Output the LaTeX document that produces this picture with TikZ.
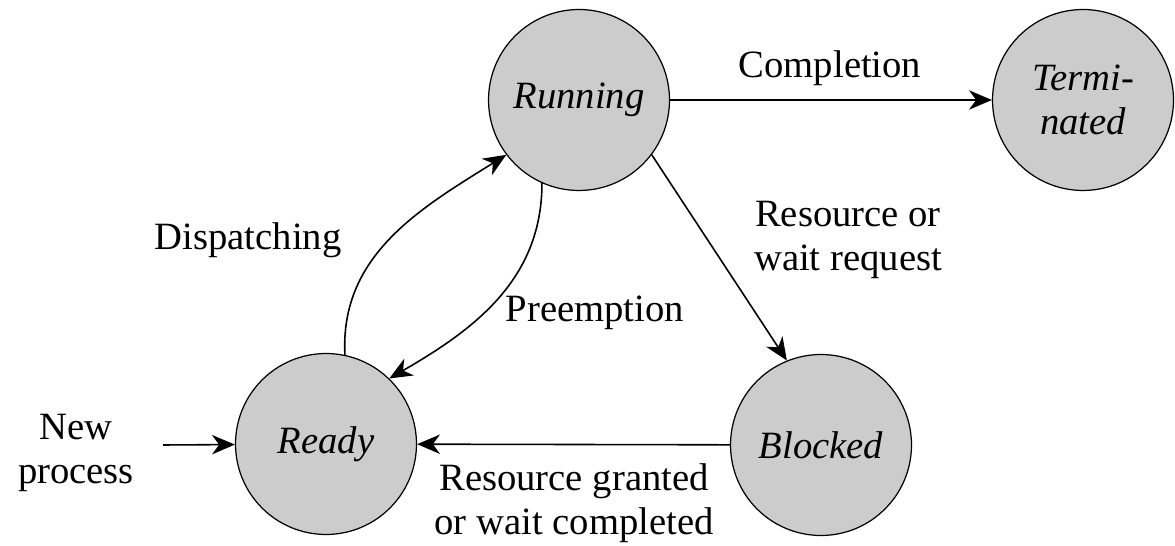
\documentclass[tikz,border=0pt]{standalone}
\usepackage{fontspec}
\setmainfont{Liberation Serif}
\usetikzlibrary{arrows.meta}
\definecolor{stategray}{RGB}{204,204,204}
\begin{document}
\begin{tikzpicture}[x=0.02cm,y=-0.02cm,
  state/.style={circle,draw=black,line width=0.7pt,fill=stategray,minimum size=3.62cm,inner sep=0pt,
    font=\fontsize{22}{25}\selectfont\itshape,align=center},
  lbl/.style={font=\fontsize{22}{25}\selectfont,align=center,inner sep=0pt},
  conn/.style={line width=0.9pt,-{Stealth[length=13pt,width=11pt,inset=4pt]}}]
\useasboundingbox (0,0) rectangle (1175,546);
\node[state] (running) at (579,100) {Running};
\node[state] (term) at (1083,100) {Termi-\\nated};
\node[state] (ready) at (326,444) {Ready};
\node[state] (blocked) at (821,445) {Blocked};
\coordinate (newp) at (163,445);
\node[lbl] (newlbl) at (76,453) {New\\process};
\node[lbl,anchor=base] (complbl) at (830,78) {Completion};
\node[lbl] (reslbl) at (848,240) {Resource or\\wait request};
\node[lbl,anchor=base] (displbl) at (248,250) {Dispatching};
\node[lbl,anchor=base] (prelbl) at (595,322) {Preemption};
\node[lbl] (grantlbl) at (574,503) {Resource granted\\or wait completed};
\draw[conn] (newp) -- (ready);
\draw[conn] (running) -- (term);
\draw[conn] (blocked) -- (ready);
\draw[conn] (running.-37) -- (blocked.112);
\draw[conn] (ready.78) to[out=93,in=212] (running.217);
\draw[conn] (running.246) to[out=270,in=30] (ready.46);
\end{tikzpicture}
\end{document}
